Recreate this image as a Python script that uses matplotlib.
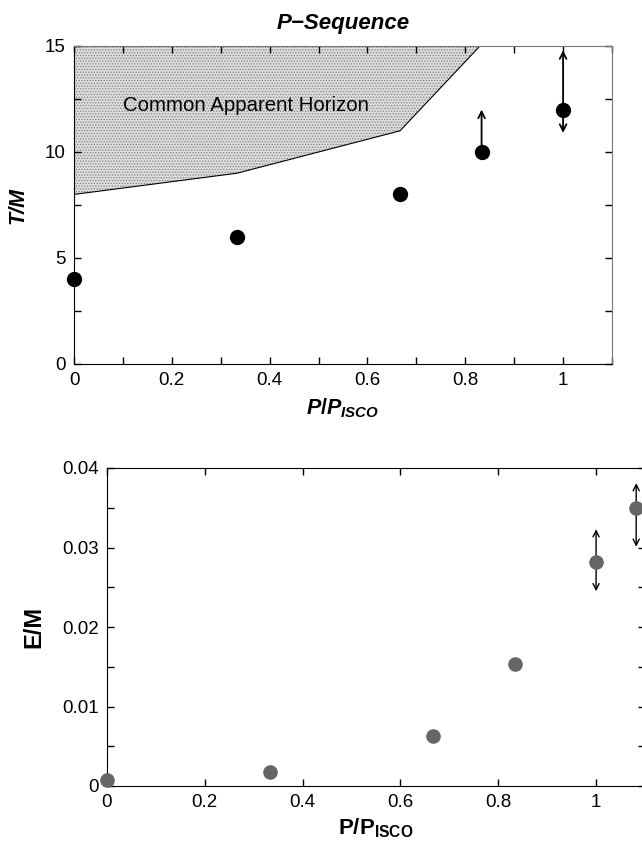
import numpy as np
import matplotlib
matplotlib.use("Agg")
import matplotlib.pyplot as plt
from matplotlib.ticker import MultipleLocator, FuncFormatter

#     :: Data ::
# top panel: merger time
p_top = [0.0, 1/3, 2/3, 5/6, 1.0]
t_top = [4, 6, 8, 10, 12]
# arrows (x, low, high) -- style per arrow
arr_top_x = [5/6, 1.0]
arr_top_lo = [10.0, 10.9]
arr_top_hi = [12.0, 14.8]
arr_top_style = ['->', '<->']
# common apparent horizon boundary
cah_x = [0.0, 1/3, 2/3, 0.83]
cah_y = [8.0, 9.0, 11.0, 15.0]

# bottom panel: radiated energy
p_bot = [0.0, 1/3, 2/3, 0.835, 1.0, 1.082]
e_bot = [0.00075, 0.0018, 0.0063, 0.0154, 0.0282, 0.035]
arr_bot_x = [1.0, 1.082]
arr_bot_lo = [0.0245, 0.0301]
arr_bot_hi = [0.0323, 0.0381]

#     :: Style ::
plt.rcParams['font.family'] = ['Liberation Sans', 'DejaVu Sans']
plt.rcParams['mathtext.fontset'] = 'custom'
plt.rcParams['mathtext.it'] = 'Liberation Sans:italic:bold'
plt.rcParams['mathtext.rm'] = 'Liberation Sans:bold'
plt.rcParams['hatch.linewidth'] = 0.6

fmt = FuncFormatter(lambda v, p: '%g' % round(v, 6))

def setup_ticks(ax):
    ax.tick_params(which='both', direction='in', top=True, right=True,
                   length=5, width=1, labelsize=13.5, pad=6)

fig = plt.figure(figsize=(6.42, 8.42), dpi=100)

#     :: Top panel ::
ax1 = fig.add_axes([74/642, 1 - 364/842, 538/642, 318/842])
ax1.fill_between(cah_x, cah_y, 15, facecolor='#dddddd', hatch='......',
                 edgecolor='#808080', linewidth=0)
ax1.plot(cah_x, cah_y, color='black', lw=0.8)
ax1.plot(p_top, t_top, 'o', color='black', ms=10, clip_on=False, zorder=5)
for x, lo, hi, st in zip(arr_top_x, arr_top_lo, arr_top_hi, arr_top_style):
    ax1.annotate('', xy=(x, hi), xytext=(x, lo),
                 arrowprops=dict(arrowstyle=st, lw=1.3, color='black',
                                 shrinkA=0, shrinkB=0, mutation_scale=12))
ax1.text(0.1, 12.2, 'Common Apparent Horizon', fontsize=14.7, va='center', ha='left')
ax1.set_xlim(0, 1.1)
ax1.set_ylim(0, 15)
ax1.xaxis.set_major_locator(MultipleLocator(0.2))
ax1.xaxis.set_minor_locator(MultipleLocator(0.1))
ax1.yaxis.set_major_locator(MultipleLocator(5))
ax1.yaxis.set_minor_locator(MultipleLocator(2.5))
ax1.xaxis.set_major_formatter(fmt)
ax1.yaxis.set_major_formatter(fmt)
setup_ticks(ax1)
for s in ['top', 'right']:
    ax1.spines[s].set_color('#777777')
ax1.set_title('P\u2212Sequence', fontsize=16, fontweight='bold', style='italic', pad=12)
ax1.set_xlabel(r'$P/P_{ISCO}$', fontsize=15.5, labelpad=5)
ax1.set_ylabel('T/M', fontsize=15.5, fontweight='bold', style='italic', labelpad=12)

#     :: Bottom panel ::
ax2 = fig.add_axes([107/642, 1 - 786/842, 538/642, 318/842])
ax2.plot(p_bot, e_bot, 'o', color='#666666', ms=9.5, clip_on=False, zorder=5)
for x, lo, hi in zip(arr_bot_x, arr_bot_lo, arr_bot_hi):
    ax2.annotate('', xy=(x, hi), xytext=(x, lo),
                 arrowprops=dict(arrowstyle='<->', lw=1.0, color='black',
                                 shrinkA=0, shrinkB=0, mutation_scale=11))
ax2.set_xlim(0, 1.1)
ax2.set_ylim(0, 0.04)
ax2.xaxis.set_major_locator(MultipleLocator(0.2))
ax2.yaxis.set_major_locator(MultipleLocator(0.01))
ax2.yaxis.set_minor_locator(MultipleLocator(0.005))
ax2.xaxis.set_major_formatter(fmt)
ax2.yaxis.set_major_formatter(fmt)
setup_ticks(ax2)
ax2.set_xlabel(r'$\mathrm{P/P_{ISCO}}$', fontsize=16, labelpad=4)
ax2.set_ylabel('E/M', fontsize=17, fontweight='bold', labelpad=12)

fig.savefig('out.png', dpi=100)
